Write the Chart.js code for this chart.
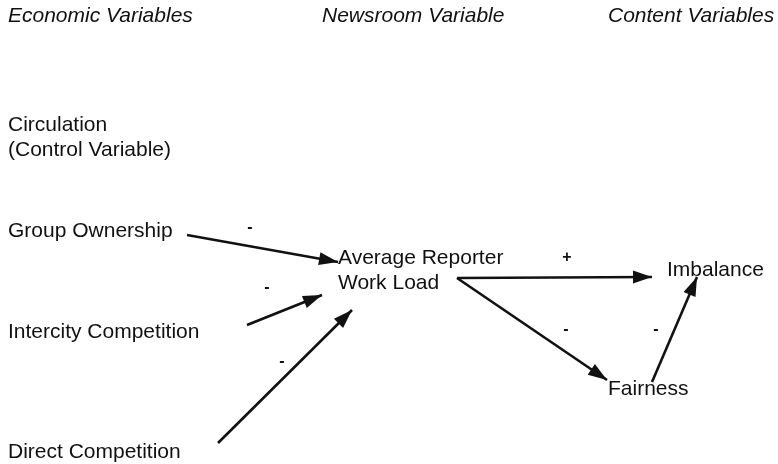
<!DOCTYPE html>
<html lang="en">
<head>
<meta charset="UTF-8">
<title>Path model</title>
<script src="https://cdn.jsdelivr.net/npm/chart.js"></script>
<style>
  html, body { margin: 0; padding: 0; background: #fff; }
  .box { width: 778px; height: 464px; position: relative; }
</style>
</head>
<body>
<div class="box"><canvas id="diagram"></canvas></div>
<script>
// column headings (diagram units, y measured from top)
const headings = ['Economic Variables', 'Newsroom Variable', 'Content Variables'];
const headingX = [8, 322, 608];
const headingY = [16, 16, 16];

// variable names
const nodeLabels = ['Circulation', '(Control Variable)', 'Group Ownership', 'Intercity Competition',
  'Direct Competition', 'Average Reporter', 'Work Load', 'Imbalance', 'Fairness'];
const nodeX = [8, 8, 8, 8, 8, 338, 338, 667, 608];
const nodeY = [125, 150, 231, 332, 452, 258, 283, 270, 389];

// paths: start and end of each arrow
const pathFromX = [187, 247, 218, 457, 457, 652];
const pathFromY = [235, 325, 443, 278, 278, 382];
const pathToX   = [338, 322, 352, 652, 607, 697];
const pathToY   = [262, 295, 310, 277, 380, 277];

// signs on the paths
const signText = ['-', '-', '-', '+', '-', '-'];
const signX = [250, 267, 282, 567, 566, 656];
const signY = [228, 288, 362, 258, 330, 330];

const datasets = pathFromX.map((fx, i) => ({
  data: [{ x: fx, y: pathFromY[i] }, { x: pathToX[i], y: pathToY[i] }],
  showLine: true,
  borderColor: '#111',
  borderWidth: 2.6,
  pointRadius: 0,
  pointHoverRadius: 0
}));

const arrowHeads = {
  id: 'arrowHeads',
  afterDatasetsDraw(chart) {
    const c = chart.ctx;
    c.save();
    c.fillStyle = '#111';
    chart.data.datasets.forEach((ds, i) => {
      const pts = chart.getDatasetMeta(i).data;
      const a = pts[0], b = pts[1];
      const ang = Math.atan2(b.y - a.y, b.x - a.x);
      const len = 19, half = 6.5;
      c.beginPath();
      c.moveTo(b.x, b.y);
      c.lineTo(b.x - len * Math.cos(ang) + half * Math.sin(ang), b.y - len * Math.sin(ang) - half * Math.cos(ang));
      c.lineTo(b.x - len * Math.cos(ang) - half * Math.sin(ang), b.y - len * Math.sin(ang) + half * Math.cos(ang));
      c.closePath();
      c.fill();
    });
    c.restore();
  }
};

const labelsPlugin = {
  id: 'labelsPlugin',
  afterDraw(chart) {
    const c = chart.ctx, sx = chart.scales.x, sy = chart.scales.y;
    c.save();
    c.fillStyle = '#111';
    c.textBaseline = 'middle';
    c.textAlign = 'left';
    c.font = 'italic 21px "Liberation Sans", Arial, sans-serif';
    headings.forEach((t, i) => c.fillText(t, sx.getPixelForValue(headingX[i]), sy.getPixelForValue(headingY[i])));
    c.font = '21px "Liberation Sans", Arial, sans-serif';
    nodeLabels.forEach((t, i) => c.fillText(t, sx.getPixelForValue(nodeX[i]), sy.getPixelForValue(nodeY[i])));
    c.textAlign = 'center';
    c.font = 'bold 16px "Liberation Sans", Arial, sans-serif';
    signText.forEach((t, i) => c.fillText(t, sx.getPixelForValue(signX[i]), sy.getPixelForValue(signY[i])));
    c.restore();
  }
};

new Chart(document.getElementById('diagram'), {
  type: 'scatter',
  data: { datasets: datasets },
  options: {
    responsive: true,
    maintainAspectRatio: false,
    animation: false,
    events: [],
    layout: { padding: 0 },
    scales: {
      x: { type: 'linear', min: 0, max: 778, display: false },
      y: { type: 'linear', min: 0, max: 464, reverse: true, display: false }
    },
    plugins: { legend: { display: false }, tooltip: { enabled: false } }
  },
  plugins: [arrowHeads, labelsPlugin]
});
</script>
</body>
</html>
